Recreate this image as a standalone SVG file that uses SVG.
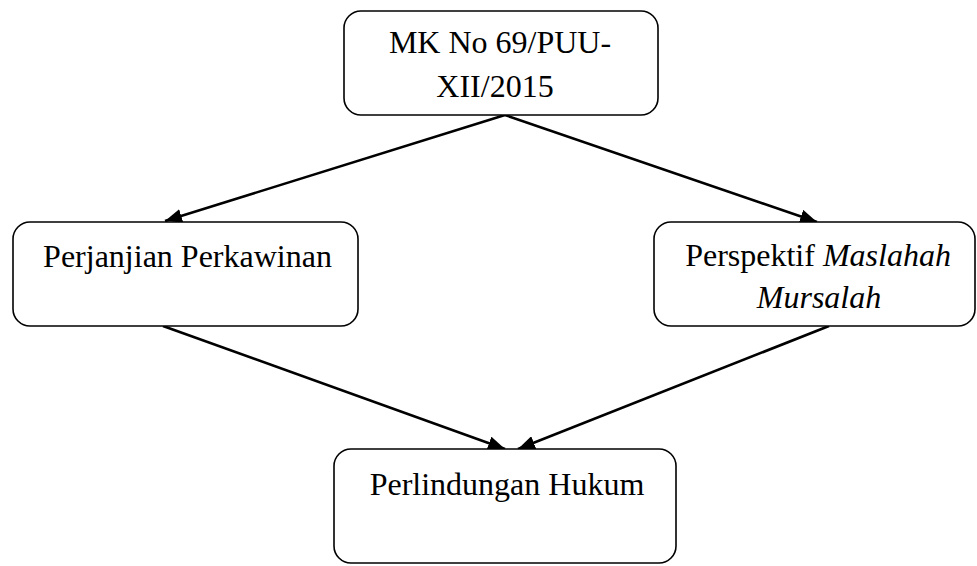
<svg xmlns="http://www.w3.org/2000/svg" width="977" height="566" viewBox="0 0 977 566">
  <defs>
    <marker id="arrow" markerUnits="userSpaceOnUse" markerWidth="18" markerHeight="14" refX="17" refY="7" orient="auto">
      <path d="M0,0 L17,7 L0,14 z" fill="#000"/>
    </marker>
    <style>
      .box { fill: #fff; stroke: #000; stroke-width: 1.6; }
      .lbl { font-family: "Liberation Serif", "Times New Roman", serif; font-size: 32px; fill: #000; text-anchor: middle; }
      .it { font-style: italic; }
      .conn { stroke: #000; stroke-width: 2.6; fill: none; marker-end: url(#arrow); }
    </style>
  </defs>
  <rect width="977" height="566" fill="#fff"/>
  <g id="connectors">
    <line class="conn" x1="505" y1="115" x2="165" y2="221"/>
    <line class="conn" x1="505" y1="115" x2="817" y2="222"/>
    <line class="conn" x1="163" y1="326" x2="505" y2="449"/>
    <line class="conn" x1="829" y1="326" x2="518" y2="449"/>
  </g>
  <g id="node-mk">
    <rect class="box" x="344" y="11" width="314" height="104" rx="17"/>
    <text class="lbl" x="500" y="53">MK No 69/PUU-</text>
    <text class="lbl" x="495" y="97">XII/2015</text>
  </g>
  <g id="node-perjanjian">
    <rect class="box" x="13" y="222" width="345" height="104" rx="17"/>
    <text class="lbl" x="187.5" y="267">Perjanjian Perkawinan</text>
  </g>
  <g id="node-perspektif">
    <rect class="box" x="654" y="222" width="321" height="104" rx="17"/>
    <text class="lbl" x="818" y="266">Perspektif <tspan class="it">Maslahah</tspan></text>
    <text class="lbl it" x="819" y="308">Mursalah</text>
  </g>
  <g id="node-perlindungan">
    <rect class="box" x="334" y="449" width="342" height="114" rx="17"/>
    <text class="lbl" x="507" y="495">Perlindungan Hukum</text>
  </g>
</svg>
